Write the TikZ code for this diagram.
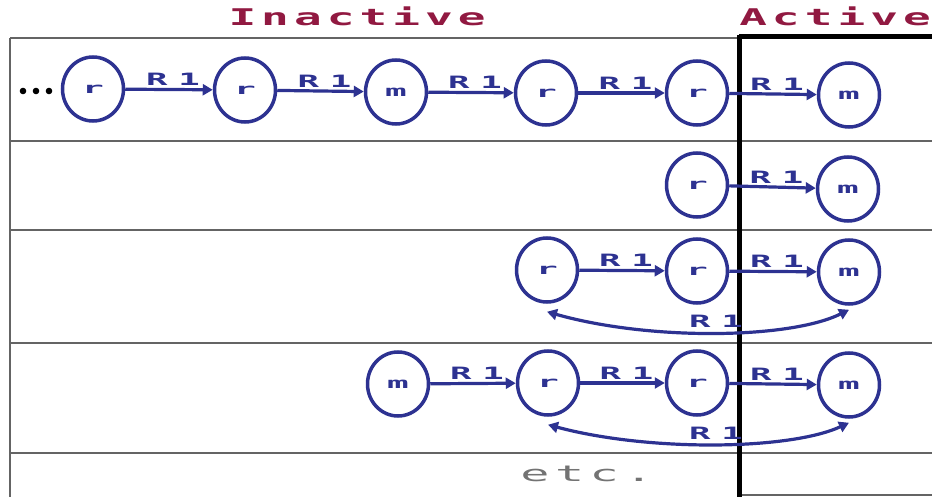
\documentclass[tikz,border=0pt]{standalone}
\usepackage{fontspec}
\setsansfont{DejaVu Sans}
\usetikzlibrary{arrows.meta,shapes.geometric}
\definecolor{navy}{RGB}{45,50,145}
\definecolor{titlered}{RGB}{145,25,65}
\definecolor{gridgray}{RGB}{100,100,100}
\definecolor{etcgray}{RGB}{115,115,115}
\newfontfamily\titlefont[FakeStretch=2.0, LetterSpace=22]{DejaVu Sans Mono}
\newfontfamily\etcfont[FakeStretch=2.2, LetterSpace=25]{DejaVu Sans Mono}
\newfontfamily\labelfont[FakeStretch=2.1, LetterSpace=62]{DejaVu Sans Mono}
\newfontfamily\statefont[FakeStretch=2.4]{DejaVu Sans Mono}
\tikzset{
  st/.style={ellipse, draw=navy, line width=3.5pt, minimum width=61pt, minimum height=64pt, inner sep=0pt,
    font=\statefont\bfseries\fontsize{15}{15}\selectfont, text=navy},
  arr/.style={navy, line width=3.2pt, -{Triangle[length=10pt,width=11pt]}},
  biarr/.style={navy, line width=3.2pt, {Triangle[length=10pt,width=11pt]}-{Triangle[length=10pt,width=11pt]}},
  lab/.style={font=\labelfont\bfseries\fontsize{17}{17}\selectfont, text=navy, inner sep=2pt},
  ttl/.style={font=\titlefont\bfseries\fontsize{23}{23}\selectfont, text=titlered, inner sep=0pt},
  grid/.style={draw=gridgray, line width=1.6pt},
  heavy/.style={draw=black, line width=5pt}
}
\begin{document}
\begin{tikzpicture}[x=1pt,y=-1pt]
\useasboundingbox (0,0) rectangle (932,497);
% titles
\node[ttl] (tin) at (357,16) {Inactive};
\node[ttl] (tac) at (835,16) {Active};
% grid
\draw[grid] (10,38) -- (739,38);
\draw[grid] (10,38) -- (10,497);
\foreach \yy in {141,230,343,453} \draw[grid] (10,\yy) -- (932,\yy);
\draw[grid] (739,495) -- (932,495);
\draw[heavy] (739,37) -- (932,37);
\draw[heavy] (739.5,35) -- (739.5,497);
% row 1
\fill (23,91) circle (3.3) (36,91) circle (3.3) (49,91) circle (3.3);
\node[st] (a1) at (93,89) {r};
\node[st] (a2) at (245,90) {r};
\node[st] (a3) at (396,92) {m};
\node[st] (a4) at (546,93) {r};
\node[st] (a5) at (697,93) {r};
\node[st] (a6) at (849,95) {m};
\foreach \p/\q in {a1/a2,a2/a3,a3/a4,a4/a5,a5/a6}
  \draw[arr] (\p) -- node[lab, above, xshift=4pt] {R1} (\q);
% row 2
\node[st] (b1) at (697,185) {r};
\node[st] (b2) at (848,189) {m};
\draw[arr] (b1) -- node[lab, above, xshift=4pt] {R1} (b2);
% row 3
\node[st] (c1) at (547,270) {r};
\node[st] (c2) at (697,271) {r};
\node[st] (c3) at (849,272) {m};
\draw[arr] (c1) -- node[lab, above, xshift=4pt] {R1} (c2);
\draw[arr] (c2) -- node[lab, above, xshift=4pt] {R1} (c3);
\draw[biarr] ([yshift=-8pt]c1.south) .. controls (650,341) and (790,339) .. ([yshift=-4pt]c3.south);
\node[lab] (c4) at (716,321) {R1};
% row 4
\node[st] (d1) at (398,384) {m};
\node[st] (d2) at (548,383) {r};
\node[st] (d3) at (697,383) {r};
\node[st] (d4) at (849,385) {m};
\draw[arr] (d1) -- node[lab, above, xshift=4pt] {R1} (d2);
\draw[arr] (d2) -- node[lab, above, xshift=4pt] {R1} (d3);
\draw[arr] (d3) -- node[lab, above, xshift=4pt] {R1} (d4);
\draw[biarr] ([yshift=-8pt]d2.south) .. controls (650,452) and (790,450) .. ([yshift=-4pt]d4.south);
\node[lab] (d5) at (716,433) {R1};
% etc
\node[font=\etcfont\fontsize{22}{22}\selectfont, text=etcgray] (etc) at (587,474) {etc.};
\end{tikzpicture}
\end{document}
